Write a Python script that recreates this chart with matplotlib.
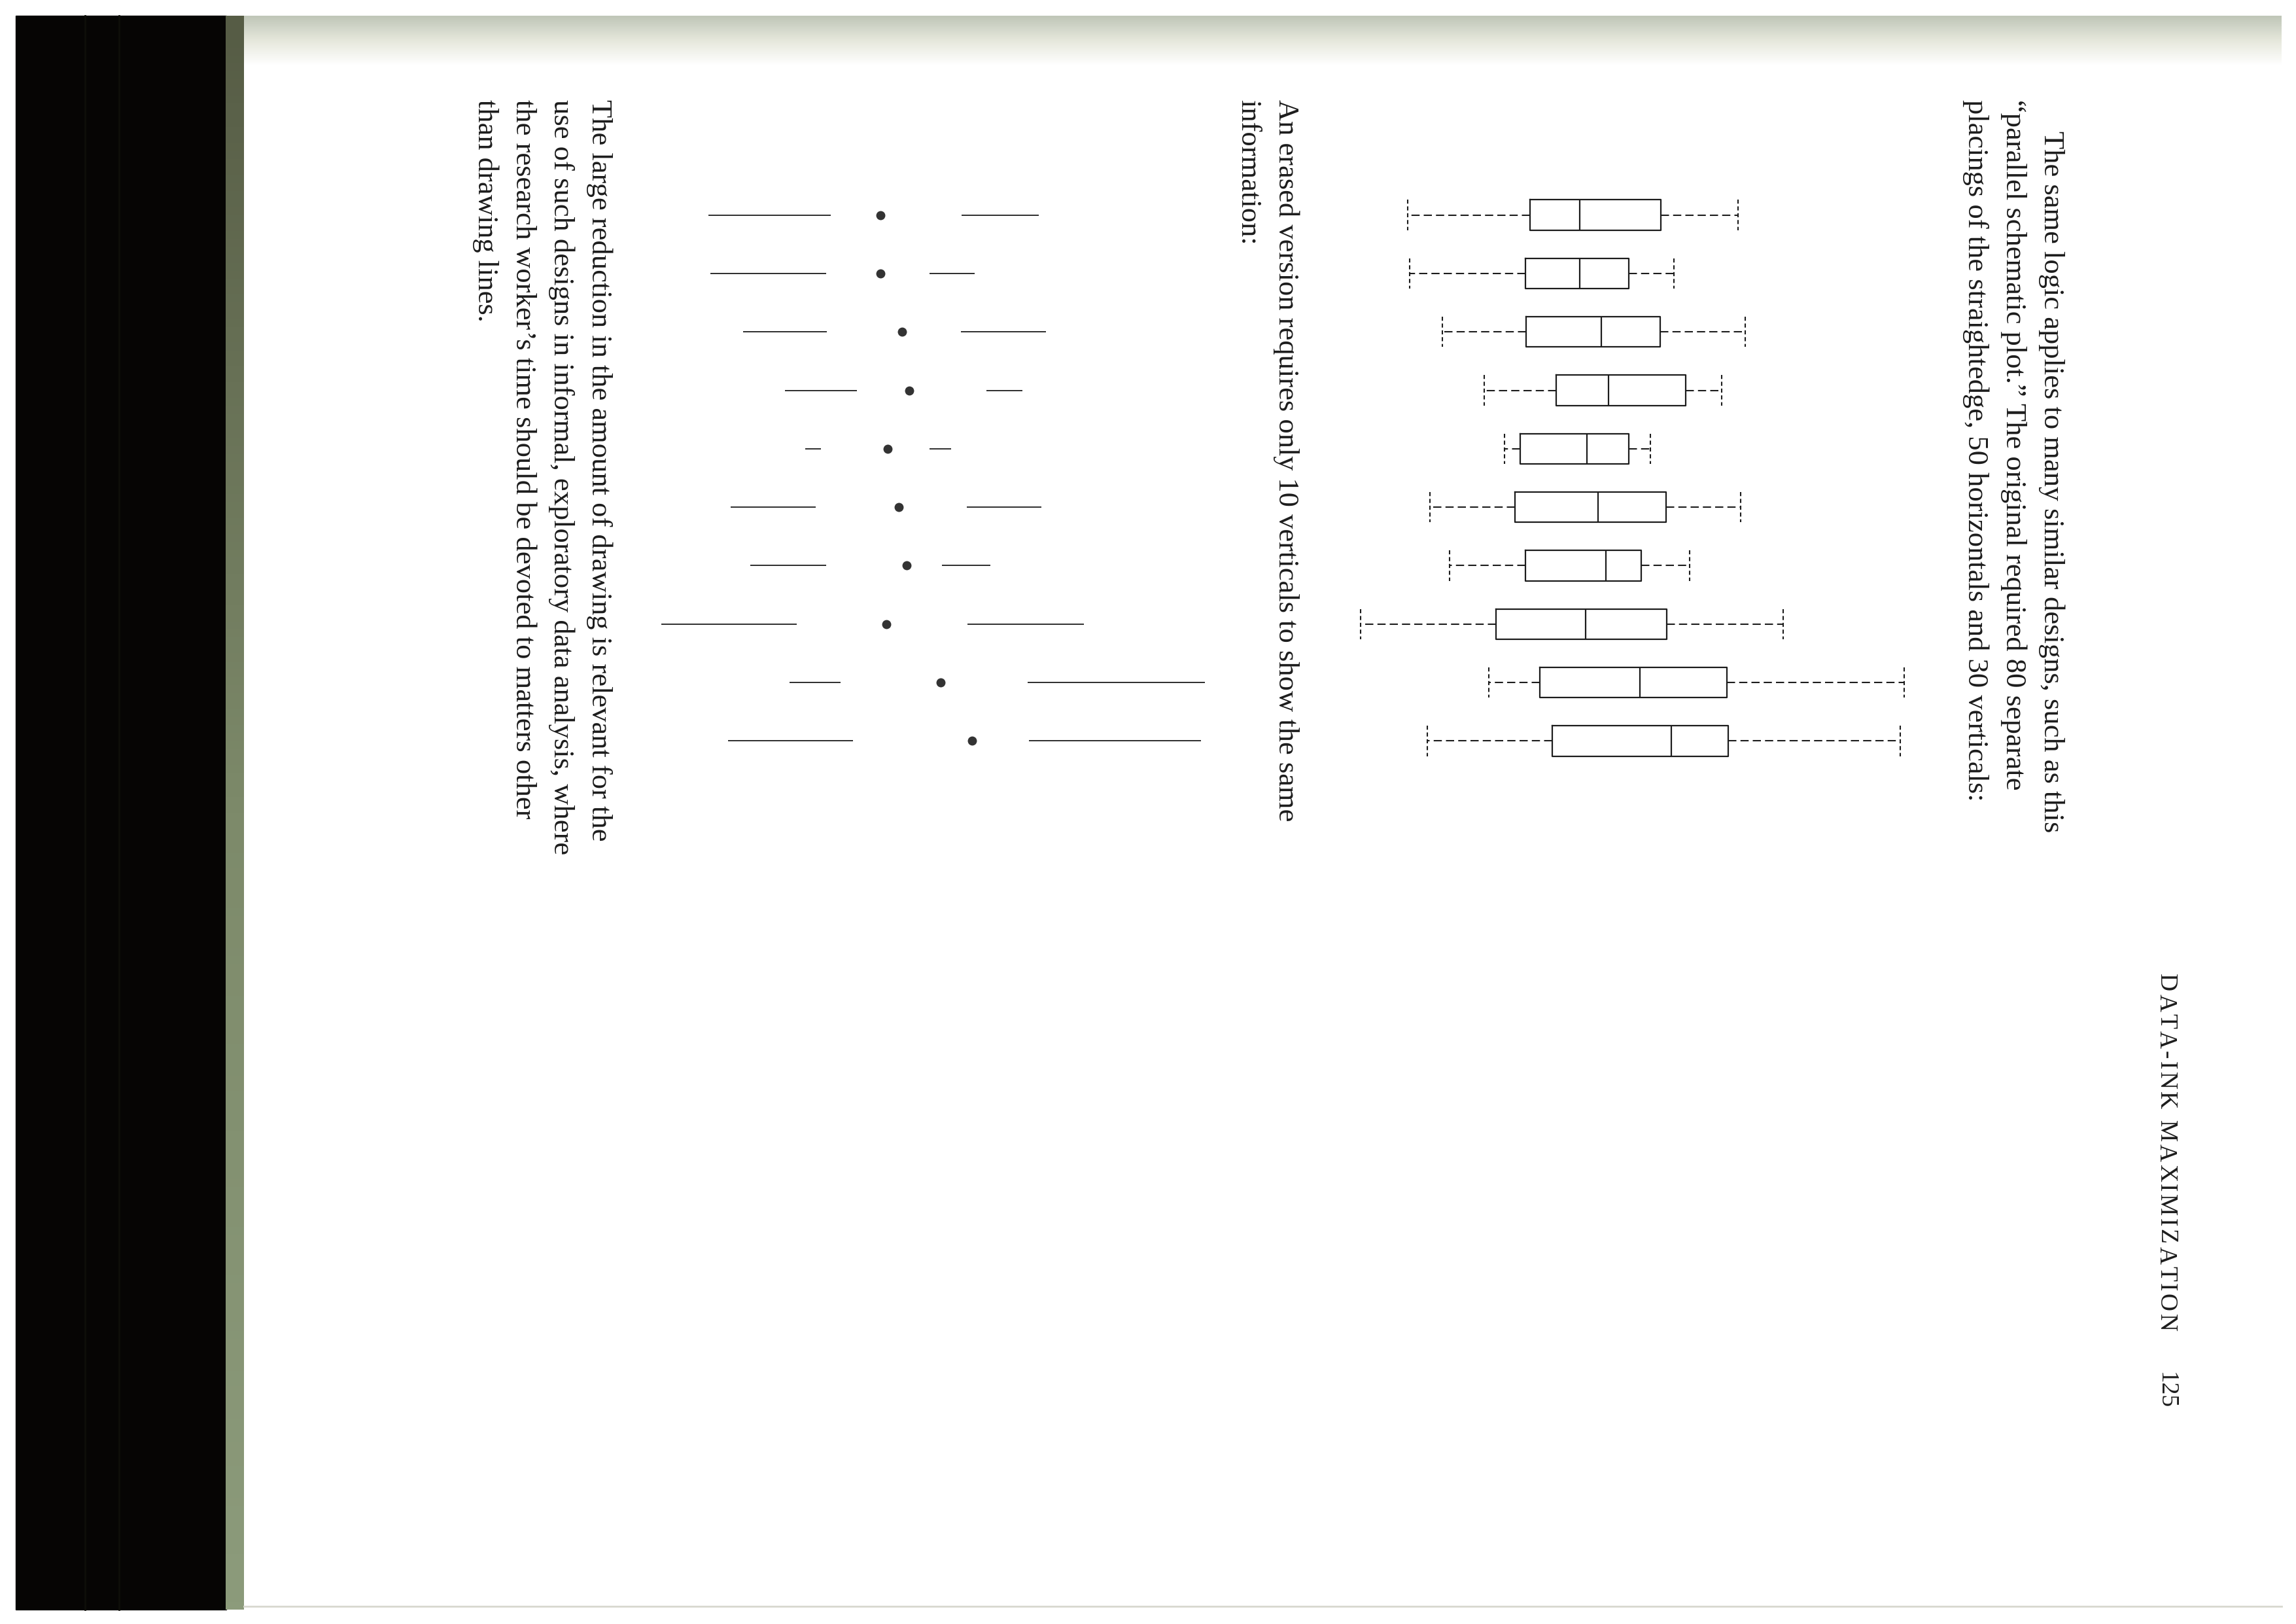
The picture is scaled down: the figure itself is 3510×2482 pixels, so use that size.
import numpy as np
import matplotlib.pyplot as plt
from matplotlib.colors import LinearSegmentedColormap
from matplotlib.font_manager import FontProperties

W, H = 3510, 2482

# ten groups (arbitrary units, values grow to the right)
groups = np.arange(1, 11)
whis_lo = [17.8, 18.3, 27.0, 38.0, 43.5, 23.6, 28.9, 5.3, 39.3, 23.0]
q1 = [50.3, 49.1, 49.3, 57.2, 47.7, 46.2, 49.1, 41.2, 52.8, 56.2]
median = [63.4, 63.4, 69.3, 71.2, 65.4, 68.4, 70.5, 65.1, 79.5, 87.8]
q3 = [85.1, 76.6, 84.9, 91.7, 76.6, 86.5, 79.9, 86.6, 102.6, 103.0]
whis_hi = [105.5, 88.6, 107.4, 101.3, 82.3, 106.2, 92.7, 117.6, 149.7, 148.7]

para1 = ["The same logic applies to many similar designs, such as this",
         "\u201cparallel schematic plot.\u201d The original required 80 separate",
         "placings of the straightedge, 50 horizontals and 30 verticals:"]
para2 = ["An erased version requires only 10 verticals to show the same",
         "information:"]
para3 = ["The large reduction in the amount of drawing is relevant for the",
         "use of such designs in informal, exploratory data analysis, where",
         "the research worker\u2019s time should be devoted to matters other",
         "than drawing lines."]
header = "DATA-INK MAXIMIZATION"
page_no = "125"

ink = '#1c1c1c'
serif = ['Liberation Serif', 'DejaVu Serif']
fs = 32

fig = plt.figure(figsize=(W / 100, H / 100), dpi=100, facecolor='white')

# scanned page background, in pixel units
bg = fig.add_axes([0, 0, 1, 1])
bg.set_xlim(0, W)
bg.set_ylim(H, 0)
bg.axis('off')
bg.add_patch(plt.Rectangle((24, 24), 322, 2436, color='#060504', zorder=1))
for sx in [130, 182]:
    bg.plot([sx, sx], [24, 2460], color='#0e0e09', lw=2, zorder=1.5)
green = LinearSegmentedColormap.from_list('g', ['#565c45', '#7d8a6a', '#8c9b7b'])
bg.imshow(np.linspace(0, 1, 200)[:, None], cmap=green, aspect='auto',
          extent=[345, 373, 2460, 24], zorder=2)
top = LinearSegmentedColormap.from_list('t', ['#bfc6b8', '#e6e8dc', '#ffffff'])
bg.imshow(np.linspace(0, 1, 100)[:, None], cmap=top, aspect='auto',
          extent=[373, 3488, 100, 24], zorder=2)
bg.plot([373, 3488], [2455, 2455], color='#d8d8cf', lw=2, zorder=2)


def column(lines, x0, y0, indent=0, step=58):
    for i, s in enumerate(lines):
        bg.text(x0 - i * step, y0 + (indent if i == 0 else 0), s, rotation=-90,
                rotation_mode='anchor', ha='left', va='baseline',
                fontsize=fs, family=serif, color=ink, zorder=3)


column(para1, 3125, 152, indent=48)
column(para2, 1955, 152)
column(para3, 905, 152)

# running head is letter-spaced small caps: place glyph by glyph
rend = fig.canvas.get_renderer()
hprop = FontProperties(family=serif, size=27)
space_w = 27 * 100 / 72 * 0.25
widths = [space_w if ch == ' ' else
          rend.get_text_width_height_descent(ch, hprop, ismath=False)[0]
          for ch in header]
y_start, y_end = 1488, 2035
track = (y_end - y_start - sum(widths)) / (len(header) - 1)
y = y_start
for ch, w in zip(header, widths):
    if ch != ' ':
        bg.text(3302, y, ch, rotation=-90, rotation_mode='anchor', ha='left',
                va='baseline', fontproperties=hprop, color=ink, zorder=3)
    y += w + track
bg.text(3302, 2097, page_no, rotation=-90, rotation_mode='anchor', ha='left',
        va='baseline', fontproperties=hprop, color=ink, zorder=3)

# parallel schematic plot
stats = [dict(whislo=a, q1=b, med=c, q3=d, whishi=e, fliers=[])
         for a, b, c, d, e in zip(whis_lo, q1, median, q3, whis_hi)]
dash = (0, (6, 3))
ax1 = fig.add_axes([2050 / W, 1 - 1177 / H, 920 / W, 893 / H])
ax1.bxp(stats, positions=groups, orientation='horizontal', widths=0.52,
        capwidths=0.52, showfliers=False,
        boxprops=dict(color=ink, lw=1.6),
        medianprops=dict(color=ink, lw=1.6),
        whiskerprops=dict(color=ink, lw=1.5, linestyle=dash),
        capprops=dict(color=ink, lw=1.5, linestyle=(0, (3, 2))))
ax1.set_xlim(0, 160)
ax1.set_ylim(10.5, 0.5)
ax1.axis('off')

# erased version
ax2 = fig.add_axes([981 / W, 1 - 1177 / H, 920 / W, 893 / H])
ax2.hlines(groups, whis_lo, q1, color=ink, lw=1.3)
ax2.hlines(groups, q3, whis_hi, color=ink, lw=1.3)
ax2.plot(median, groups, 'o', color='#333333', ms=9)
ax2.set_xlim(0, 160)
ax2.set_ylim(10.5, 0.5)
ax2.axis('off')

fig.savefig('out.png', dpi=100, facecolor='white')
